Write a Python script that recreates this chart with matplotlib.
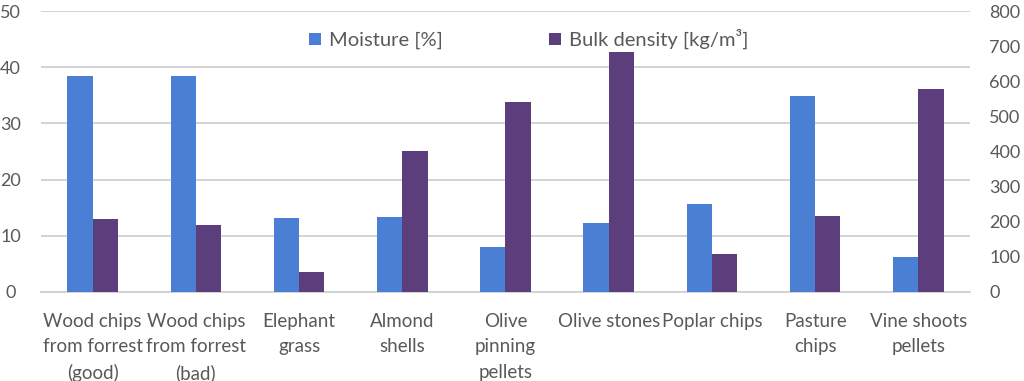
import matplotlib.pyplot as plt
import numpy as np

categories = ['Wood chips\nfrom forrest\n(good)', 'Wood chips\nfrom forrest\n(bad)', 'Elephant\ngrass',
              'Almond\nshells', 'Olive\npinning\npellets', 'Olive stones', 'Poplar chips',
              'Pasture\nchips', 'Vine shoots\npellets']
moisture = [38.5, 38.5, 13.1, 13.3, 8.0, 12.3, 15.7, 34.9, 6.2]
density = [208, 191, 58, 401, 542, 682, 108, 215, 579]

blue = '#4a7fd3'
purple = '#5c3e7d'
txt = '#595959'

plt.rcParams['font.family'] = ['Lato', 'DejaVu Sans']

fig = plt.figure(figsize=(10.24, 3.81), dpi=100)
ax = fig.add_axes([41/1024, 1 - 292/381, 929/1024, 281/381])
ax2 = ax.twinx()

x = np.arange(len(categories))
w = 0.245
b1 = ax.bar(x - w/2, moisture, w, color=blue, label='Moisture [%]', zorder=3)
b2 = ax2.bar(x + w/2, density, w, color=purple, label='Bulk density [kg/m³]', zorder=3)

ax.set_xlim(-0.5, len(categories) - 0.5)
ax.set_ylim(0, 50)
ax2.set_ylim(0, 800)
ax.set_yticks(range(0, 51, 10))
ax2.set_yticks(range(0, 801, 100))
ax.yaxis.grid(True, color='#d0d0d0', lw=1.3, zorder=0)
ax.set_axisbelow(True)

fs = 13
for a in (ax, ax2):
    for s in a.spines.values():
        s.set_visible(False)
    a.tick_params(length=0, labelsize=fs, colors=txt)
ax.spines['bottom'].set_visible(True)
ax.spines['bottom'].set_color('#d0d0d0')
ax.spines['bottom'].set_linewidth(1.3)
ax.tick_params(axis='y', pad=22)
ax2.tick_params(axis='y', pad=14)
for lab in ax.get_yticklabels():
    lab.set_horizontalalignment('center')
ax.set_xticks(x)
ax.set_xticklabels(categories, fontsize=13.5, color=txt, linespacing=1.6)
ax.tick_params(axis='x', pad=15)

ax.legend([b1, b2], ['Moisture [%]', 'Bulk density [kg/m³]'], ncol=2, frameon=False,
          loc='upper center', bbox_to_anchor=(0.525, 1.0), fontsize=14.5, labelcolor=txt,
          handlelength=0.6, handleheight=0.6, handletextpad=0.4, columnspacing=5.3)

fig.savefig('out.png', dpi=100)
